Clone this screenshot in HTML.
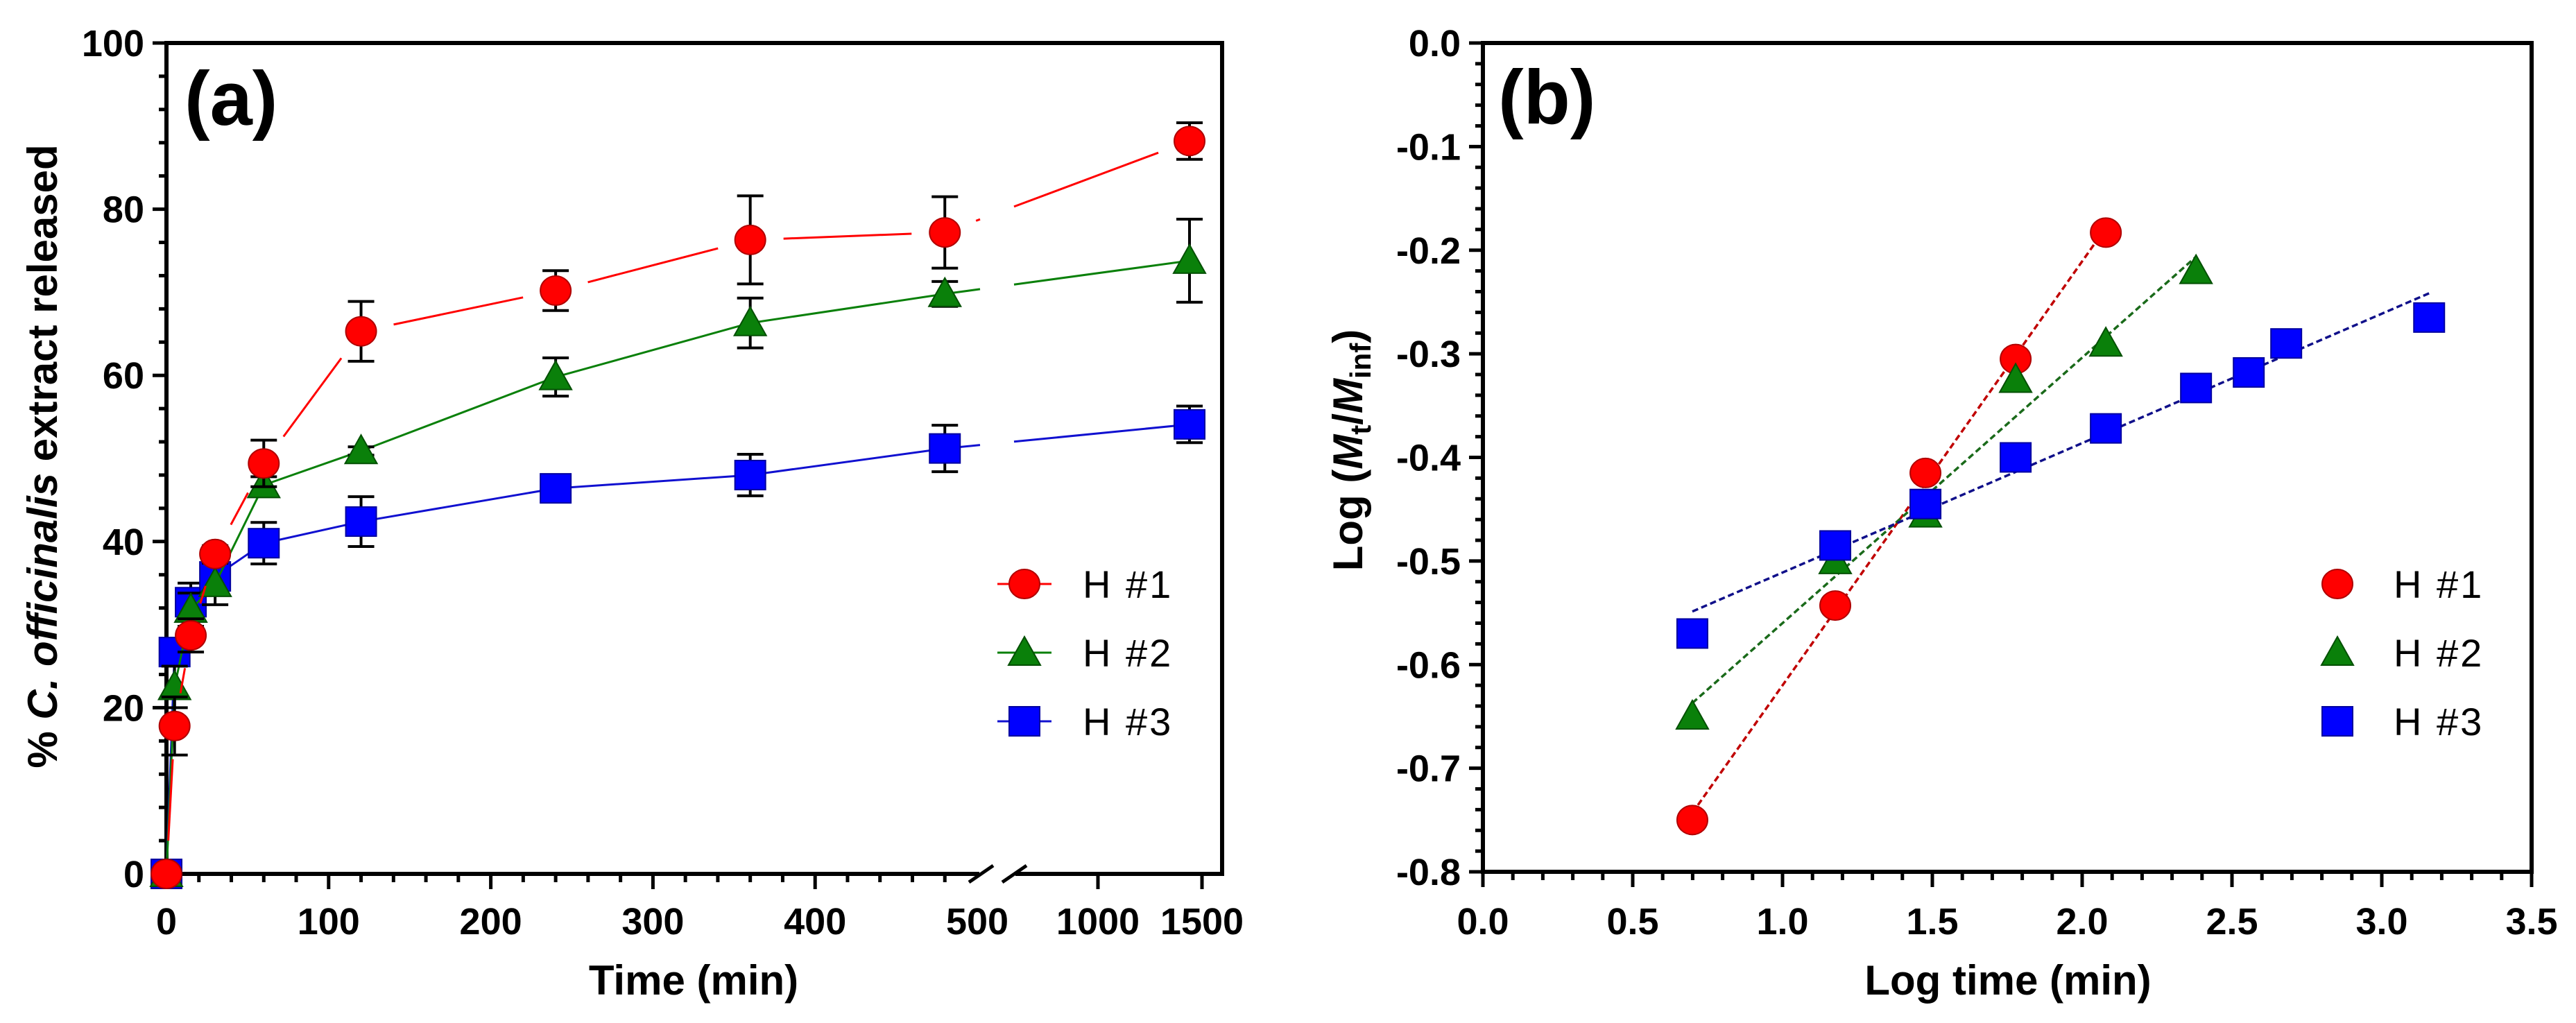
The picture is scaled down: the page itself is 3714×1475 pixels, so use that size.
<!DOCTYPE html>
<html><head><meta charset="utf-8">
<style>
html,body{margin:0;padding:0;background:#fff;}
svg{display:block;font-family:"Liberation Sans",sans-serif;}
</style></head>
<body>
<svg id="fig" width="3714" height="1475" viewBox="0 0 3714 1475" xmlns="http://www.w3.org/2000/svg">
<g id="ga"></g>
<g id="gb"></g>
</svg>
<script>
// ---- Chart (a) data ----
const timesA = [0,5,15,30,60,120,240,360,480,1440];
const h1Vals = [0,17.8,28.7,38.5,49.4,65.3,70.2,76.3,77.2,88.2];
const h1Errs = [0,3.5,2,1,2.8,3.6,2.4,5.3,4.3,2.2];
const h2Vals = [0,22.5,31.8,34.9,46.8,50.9,59.8,66.3,69.8,73.8];
const h2Errs = [0,2.5,2,2.5,1,0.5,2.3,3,1.5,5];
const h3Vals = [0,26.7,32.7,35.8,39.8,42.4,46.4,48.0,51.2,54.1];
const h3Errs = [0,1.5,2.3,2,2.5,3,0.6,2.5,2.8,2.2];
const yTicksA = [0,20,40,60,80,100];
const xTicksA1 = [0,100,200,300,400,500];
const xTicksA2 = [1000,1500];
// ---- Chart (b) data ----
const logT1 = [0.699,1.176,1.477,1.778,2.079];
const logH1 = [-0.75,-0.543,-0.415,-0.305,-0.183];
const logT2 = [0.699,1.176,1.477,1.778,2.079,2.380];
const logH2 = [-0.65,-0.50,-0.455,-0.325,-0.29,-0.22];
const logT3 = [0.699,1.176,1.477,1.778,2.079,2.380,2.556,2.681,3.158];
const logH3 = [-0.57,-0.485,-0.445,-0.40,-0.372,-0.333,-0.318,-0.29,-0.265];
const yTicksB = [0,-0.1,-0.2,-0.3,-0.4,-0.5,-0.6,-0.7,-0.8];
const xTicksB = [0,0.5,1,1.5,2,2.5,3,3.5];

const NS="http://www.w3.org/2000/svg";
function mk(parent,tag,attrs,text){const e=document.createElementNS(NS,tag);for(const k in attrs)e.setAttribute(k,attrs[k]);if(text!==undefined)e.textContent=text;parent.appendChild(e);return e;}

const COL={red:{f:"#ff0000",s:"#b00000",l:"#ff0000",d:"#c00000"},green:{f:"#0a800a",s:"#045004",l:"#0a800a",d:"#1a6a1a"},blue:{f:"#0000ff",s:"#0000a0",l:"#1010d0",d:"#10108a"}};

function marker(g,kind,cx,cy,c){
  let e;
  if(kind==='circle'){e=mk(g,'ellipse',{cx:cx,cy:cy,rx:22,ry:21,fill:c.f,stroke:c.s,'stroke-width':2});}
  else if(kind==='tri'){e=mk(g,'polygon',{points:`${cx},${cy-23} ${cx+23},${cy+18} ${cx-23},${cy+18}`,fill:c.f,stroke:c.s,'stroke-width':2});}
  else {e=mk(g,'rect',{x:cx-22,y:cy-21,width:44,height:42,fill:c.f,stroke:c.s,'stroke-width':2});}
  return e;
}

// ---------- Chart A ----------
const ga=document.getElementById('ga');
const AL=240,AT=62,AB=1260,AR=1762;
function xA(t){return t<=500? AL+t*2.338 : 1583+(t-1000)*0.3;}
function yA(v){return AB-(v/100)*(AB-AT);}
let e;
e=mk(ga,'rect',{x:AL,y:AT,width:AR-AL,height:AB-AT,fill:'none',stroke:'#000','stroke-width':6});


e=mk(ga,'rect',{x:1412,y:AB-8,width:52,height:16,fill:'#fff'});


[[1397,1432],[1445,1480]].forEach(p=>{
  e=mk(ga,'line',{x1:p[0],y1:AB+12,x2:p[1],y2:AB-12,stroke:'#000','stroke-width':5});
  
  
});
for(let v=0;v<=100;v+=4){const maj=v%20===0;
  e=mk(ga,'line',{x1:AL-(maj?20:11),y1:yA(v),x2:AL,y2:yA(v),stroke:'#000','stroke-width':5});
  
  }
yTicksA.forEach(v=>{e=mk(ga,'text',{x:208,y:yA(v)+19,'text-anchor':'end','font-size':54,'font-weight':'bold'},String(v));
  
  });
for(let t=0;t<=480;t+=20){const maj=t%100===0;
  e=mk(ga,'line',{x1:xA(t),y1:AB,x2:xA(t),y2:AB+(maj?22:12),stroke:'#000','stroke-width':5});
  
  }
xTicksA2.forEach(t=>{e=mk(ga,'line',{x1:xA(t),y1:AB,x2:xA(t),y2:AB+22,stroke:'#000','stroke-width':5});
  
  });
xTicksA1.concat(xTicksA2).forEach(t=>{e=mk(ga,'text',{x:xA(t),y:1347,'text-anchor':'middle','font-size':54,'font-weight':'bold'},String(t));
  
  });
e=mk(ga,'text',{x:1000,y:1434,'text-anchor':'middle','font-size':60,'font-weight':'bold'},'Time (min)');


e=mk(ga,'text',{x:0,y:0,'text-anchor':'middle','font-size':60,'font-weight':'bold',transform:'translate(82,658) rotate(-90)'});


mk(e,'tspan',{},'% ');mk(e,'tspan',{'font-style':'italic'},'C. officinalis');mk(e,'tspan',{},' extract released');
e=mk(ga,'text',{x:266,y:180,'font-size':110,'font-weight':'bold'},'(a)');



function seriesA(vals,errs,kind,c,gap,name){
  const g=mk(ga,'g',{});
  
  
  for(let i=0;i<vals.length-1;i++){
    let x1=xA(timesA[i]),y1=yA(vals[i]),x2=xA(timesA[i+1]),y2=yA(vals[i+1]);
    const dx=x2-x1,dy=y2-y1,L=Math.hypot(dx,dy);
    if(L<=2*gap) continue;
    const ux=dx/L,uy=dy/L;
    const ax=x1+ux*gap,ay=y1+uy*gap,bx=x2-ux*gap,by=y2-uy*gap;
    if(timesA[i+1]>500){
      const tA=(1413-x1)/dx,tB=(1462-x1)/dx;
      e=mk(g,'line',{x1:ax,y1:ay,x2:x1+dx*tA,y2:y1+dy*tA,stroke:c.l,'stroke-width':3});
      
      
      e=mk(g,'line',{x1:x1+dx*tB,y1:y1+dy*tB,x2:bx,y2:by,stroke:c.l,'stroke-width':3});
    } else {
      e=mk(g,'line',{x1:ax,y1:ay,x2:bx,y2:by,stroke:c.l,'stroke-width':3});
    }
    
    
  }
  vals.forEach((v,i)=>{
    if(errs[i]>0){const x=xA(timesA[i]);
      const eg=mk(g,'g',{stroke:'#000','stroke-width':4});
      
      
      mk(eg,'line',{x1:x,y1:yA(v+errs[i]),x2:x,y2:yA(v-errs[i])});
      mk(eg,'line',{x1:x-19,y1:yA(v+errs[i]),x2:x+19,y2:yA(v+errs[i])});
      mk(eg,'line',{x1:x-19,y1:yA(v-errs[i]),x2:x+19,y2:yA(v-errs[i])});}
  });
  vals.forEach((v,i)=>{const m=marker(g,kind,xA(timesA[i]),yA(v),c);
    
    });
}
seriesA(h3Vals,h3Errs,'sq',COL.blue,0,'series-h3');
seriesA(h2Vals,h2Errs,'tri',COL.green,0,'series-h2');
seriesA(h1Vals,h1Errs,'circle',COL.red,48,'series-h1');

[['circle',COL.red,'H #1',842],['tri',COL.green,'H #2',941],['sq',COL.blue,'H #3',1040]].forEach(L=>{
  const g=mk(ga,'g',{});
  
  
  mk(g,'line',{x1:1438,y1:L[3],x2:1516,y2:L[3],stroke:L[1].l,'stroke-width':3});
  marker(g,L[0],1477,L[3],L[1]);
  mk(g,'text',{x:1561,y:L[3]+20,'font-size':56,'letter-spacing':3},L[2]);
});

// ---------- Chart B ----------
const gb=document.getElementById('gb');
const BL=2138,BT=62,BB=1257,BR=3650;
function xB(v){return BL+v/3.5*(BR-BL);}
function yB(v){return BT+(-v/0.8)*(BB-BT);}
e=mk(gb,'rect',{x:BL,y:BT,width:BR-BL,height:BB-BT,fill:'none',stroke:'#000','stroke-width':6});


for(let k=0;k<=40;k++){const v=-k*0.02,maj=k%5===0;
  e=mk(gb,'line',{x1:BL-(maj?20:11),y1:yB(v),x2:BL,y2:yB(v),stroke:'#000','stroke-width':5});
  
  }
for(let k=0;k<=35;k++){const v=k*0.1,maj=k%5===0;
  e=mk(gb,'line',{x1:xB(v),y1:BB,x2:xB(v),y2:BB+(maj?22:12),stroke:'#000','stroke-width':5});
  
  }
yTicksB.forEach(v=>{e=mk(gb,'text',{x:2106,y:yB(v)+19,'text-anchor':'end','font-size':54,'font-weight':'bold'},(v===0?'0.0':'-'+Math.abs(v).toFixed(1)));
  
  });
xTicksB.forEach(v=>{e=mk(gb,'text',{x:xB(v),y:1347,'text-anchor':'middle','font-size':54,'font-weight':'bold'},v.toFixed(1));
  
  });
e=mk(gb,'text',{x:2895,y:1434,'text-anchor':'middle','font-size':60,'font-weight':'bold'},'Log time (min)');


e=mk(gb,'text',{x:0,y:0,'text-anchor':'middle','font-size':60,'font-weight':'bold',transform:'translate(1964,649) rotate(-90)'});


mk(e,'tspan',{},'Log (');mk(e,'tspan',{'font-style':'italic'},'M');mk(e,'tspan',{'font-size':42,dy:12},'t');
mk(e,'tspan',{dy:-12},'/');mk(e,'tspan',{'font-style':'italic'},'M');mk(e,'tspan',{'font-size':42,dy:12},'inf');mk(e,'tspan',{dy:-12},')');
e=mk(gb,'text',{x:2160,y:178,'font-size':110,'font-weight':'bold'},'(b)');



function seriesB(xs,ys,kind,c,name){
  const g=mk(gb,'g',{});
  
  
  const n=xs.length;let sx=0,sy=0,sxx=0,sxy=0;
  for(let i=0;i<n;i++){sx+=xs[i];sy+=ys[i];sxx+=xs[i]*xs[i];sxy+=xs[i]*ys[i];}
  const b=(n*sxy-sx*sy)/(n*sxx-sx*sx),a=(sy-b*sx)/n;
  const x0=xs[0],x1=xs[n-1];
  e=mk(g,'line',{x1:xB(x0),y1:yB(a+b*x0),x2:xB(x1),y2:yB(a+b*x1),stroke:c.d,'stroke-width':3.5,'stroke-dasharray':'9 5'});
  
  
  xs.forEach((x,i)=>{const m=marker(g,kind,xB(x),yB(ys[i]),c);
    
    });
}
seriesB(logT1,logH1,'circle',COL.red,'series-b-h1');
seriesB(logT2,logH2,'tri',COL.green,'series-b-h2');
seriesB(logT3,logH3,'sq',COL.blue,'series-b-h3');

[['circle',COL.red,'H #1',842],['tri',COL.green,'H #2',941],['sq',COL.blue,'H #3',1040]].forEach(L=>{
  const g=mk(gb,'g',{});
  
  
  marker(g,L[0],3370,L[3],L[1]);
  mk(g,'text',{x:3451,y:L[3]+20,'font-size':56,'letter-spacing':3},L[2]);
});
</script>
</body></html>
